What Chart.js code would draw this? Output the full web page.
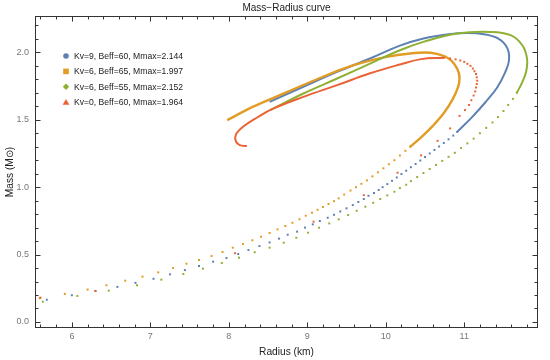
<!DOCTYPE html>
<html>
<head>
<meta charset="utf-8">
<script src="https://cdn.jsdelivr.net/npm/chart.js@4.4.0/dist/chart.umd.min.js"></script>
<style>
  html, body { margin: 0; padding: 0; background: #fff; }
</style>
</head>
<body>
<canvas id="mrChart" width="550" height="360"></canvas>
<script>
// ---- data (radius in km, mass in solar masses) ----
const seriesLabels = [
  'Kv=9, Beff=60, Mmax=2.144',
  'Kv=6, Beff=65, Mmax=1.997',
  'Kv=6, Beff=55, Mmax=2.152',
  'Kv=0, Beff=60, Mmax=1.964'
];
const seriesColors = ['#5E81B5', '#E19C24', '#8FB032', '#EB6235'];
const legendMarkers = ['circle', 'rect', 'rectRot', 'triangle'];

// Kv=9, Beff=60 : sparse points (low branch) + dense part drawn as a line
const kv9DotR = [5.68, 6.00, 6.30, 6.58, 6.81, 7.04, 7.25, 7.44, 7.62, 7.80, 7.97, 8.12, 8.25, 8.39, 8.52, 8.64, 8.75, 8.87, 8.97, 9.07, 9.16, 9.26, 9.34, 9.42, 9.50, 9.58, 9.65, 9.72, 9.78, 9.85, 9.91, 9.96, 10.02, 10.08, 10.14, 10.20, 10.26, 10.32, 10.38, 10.44, 10.50, 10.56, 10.62, 10.68, 10.74, 10.80, 10.86, 10.91];
const kv9DotM = [0.165, 0.198, 0.230, 0.260, 0.290, 0.320, 0.353, 0.385, 0.415, 0.447, 0.474, 0.504, 0.534, 0.563, 0.590, 0.618, 0.647, 0.670, 0.700, 0.724, 0.749, 0.773, 0.795, 0.820, 0.843, 0.867, 0.890, 0.912, 0.936, 0.956, 0.979, 1.000, 1.023, 1.047, 1.072, 1.098, 1.122, 1.148, 1.172, 1.198, 1.223, 1.250, 1.276, 1.302, 1.328, 1.355, 1.383, 1.410];
const kv9LineR = [10.91, 11.10, 11.27, 11.42, 11.52, 11.57, 11.55, 11.44, 11.25, 11.05, 10.80, 10.48, 10.18, 9.80, 9.38, 8.95, 8.52];
const kv9LineM = [1.410, 1.520, 1.630, 1.740, 1.850, 1.940, 2.030, 2.100, 2.135, 2.144, 2.135, 2.103, 2.050, 1.955, 1.855, 1.745, 1.633];

// Kv=6, Beff=65
const kv6aDotR = [5.59, 5.91, 6.20, 6.44, 6.68, 6.90, 7.10, 7.29, 7.46, 7.62, 7.78, 7.92, 8.05, 8.18, 8.30, 8.41, 8.52, 8.62, 8.72, 8.81, 8.90, 8.98, 9.06, 9.13, 9.20, 9.27, 9.34, 9.40, 9.47, 9.55, 9.62, 9.69, 9.76, 9.83, 9.90, 9.97, 10.04, 10.11, 10.18, 10.25, 10.31];
const kv6aDotM = [0.176, 0.208, 0.240, 0.272, 0.306, 0.336, 0.368, 0.400, 0.432, 0.460, 0.489, 0.519, 0.551, 0.578, 0.606, 0.632, 0.660, 0.687, 0.712, 0.736, 0.762, 0.788, 0.810, 0.832, 0.853, 0.875, 0.896, 0.917, 0.945, 0.975, 1.000, 1.025, 1.050, 1.080, 1.110, 1.140, 1.170, 1.200, 1.235, 1.270, 1.300];
const kv6aLineR = [10.31, 10.45, 10.60, 10.74, 10.85, 10.92, 10.94, 10.91, 10.80, 10.57, 10.31, 10.01, 9.59, 9.16, 8.74, 8.31, 7.98];
const kv6aLineM = [1.300, 1.370, 1.455, 1.550, 1.650, 1.740, 1.810, 1.880, 1.955, 1.997, 1.992, 1.967, 1.905, 1.810, 1.705, 1.597, 1.497];

// Kv=6, Beff=55
const kv6bDotR = [5.63, 6.07, 6.47, 6.83, 7.14, 7.42, 7.67, 7.91, 8.13, 8.33, 8.52, 8.70, 8.86, 9.01, 9.15, 9.28, 9.40, 9.52, 9.63, 9.74, 9.84, 9.93, 10.02, 10.11, 10.18, 10.26, 10.32, 10.40, 10.48, 10.56, 10.64, 10.72, 10.80, 10.88, 10.96, 11.04, 11.12, 11.20, 11.28, 11.36, 11.43, 11.50, 11.56, 11.62, 11.67];
const kv6bDotM = [0.150, 0.193, 0.232, 0.272, 0.314, 0.356, 0.395, 0.437, 0.477, 0.517, 0.551, 0.588, 0.625, 0.662, 0.699, 0.731, 0.761, 0.793, 0.825, 0.855, 0.884, 0.912, 0.939, 0.966, 0.993, 1.018, 1.045, 1.075, 1.105, 1.135, 1.165, 1.195, 1.225, 1.255, 1.290, 1.325, 1.360, 1.400, 1.440, 1.480, 1.520, 1.565, 1.610, 1.655, 1.700];
const kv6bLineR = [11.67, 11.74, 11.79, 11.80, 11.74, 11.59, 11.33, 10.91, 10.48, 10.18, 9.80, 9.38, 8.95, 8.53];
const kv6bLineM = [1.700, 1.780, 1.860, 1.955, 2.053, 2.128, 2.152, 2.140, 2.078, 2.016, 1.917, 1.806, 1.695, 1.572];

// Kv=0, Beff=60
const kv0DotR = [5.60, 6.30, 8.08, 9.08, 9.72, 10.15, 10.45, 10.66, 10.82, 10.94, 11.01, 11.06, 11.09, 11.12, 11.14, 11.15, 11.16, 11.165, 11.16, 11.15, 11.13, 11.11, 11.08, 11.04, 11.00, 10.95, 10.89, 10.82, 10.74];
const kv0DotM = [0.180, 0.230, 0.510, 0.744, 0.941, 1.107, 1.236, 1.344, 1.436, 1.529, 1.572, 1.610, 1.645, 1.680, 1.710, 1.740, 1.765, 1.790, 1.815, 1.840, 1.860, 1.880, 1.900, 1.915, 1.930, 1.940, 1.948, 1.955, 1.960];
const kv0LineR = [10.74, 10.45, 10.18, 9.80, 9.38, 8.95, 8.57, 8.36, 8.18, 8.09, 8.09, 8.14, 8.23];
const kv0LineM = [1.960, 1.950, 1.910, 1.845, 1.757, 1.670, 1.584, 1.517, 1.448, 1.390, 1.340, 1.312, 1.305];

// axes
const xTickValues = [6, 7, 8, 9, 10, 11];
const xTickLabels = ['6', '7', '8', '9', '10', '11'];
const yTickValues = [0, 0.5, 1, 1.5, 2];
const yTickLabels = ['0.0', '0.5', '1.0', '1.5', '2.0'];

const pts = (rs, ms) => rs.map((r, i) => ({ x: r, y: ms[i] }));

const dotSets = [[kv9DotR, kv9DotM], [kv6aDotR, kv6aDotM], [kv6bDotR, kv6bDotM], [kv0DotR, kv0DotM]];
const lineSets = [[kv9LineR, kv9LineM], [kv6aLineR, kv6aLineM], [kv6bLineR, kv6bLineM], [kv0LineR, kv0LineM]];

const datasets = [];
// red drawn last in the original -> give it the lowest order so it ends on top
for (let i = 0; i < 4; i++) {
  datasets.push({
    label: seriesLabels[i] + ' line',
    data: pts(lineSets[i][0], lineSets[i][1]),
    showLine: true,
    borderColor: seriesColors[i],
    borderWidth: i === 1 ? 2.4 : 2,
    pointRadius: 0,
    tension: 0.4,
    fill: false,
    order: 4 - i
  });
  datasets.push({
    label: seriesLabels[i],
    data: pts(dotSets[i][0], dotSets[i][1]),
    showLine: false,
    pointStyle: 'rect',
    pointRadius: 1.4,
    pointBorderWidth: 0,
    backgroundColor: seriesColors[i],
    order: 4 - i
  });
}

const FONT = "'Liberation Sans', Arial, sans-serif";

// Mathematica-style frame: box with inward ticks on all sides, plus the legend
const framePlugin = {
  id: 'frame',
  afterDraw(chart) {
    const { ctx, chartArea: a, scales: { x, y } } = chart;
    ctx.save();
    ctx.strokeStyle = '#333';
    ctx.lineWidth = 1;
    const L = Math.round(a.left) + 0.5, R = Math.round(a.right) - 0.5;
    const T = Math.round(a.top) + 0.5, B = Math.round(a.bottom) - 0.5;
    ctx.strokeRect(L, T, R - L, B - T);

    ctx.beginPath();
    for (let k = 28; k <= 59; k++) {          // every 0.2 km
      const v = k / 5;
      const px = Math.round(x.getPixelForValue(v)) + 0.5;
      const len = k % 5 === 0 ? 5 : 3;
      ctx.moveTo(px, B); ctx.lineTo(px, B - len);
      ctx.moveTo(px, T); ctx.lineTo(px, T + len);
    }
    for (let k = 0; k <= 22; k++) {           // every 0.1 Msun
      const v = k / 10;
      const py = Math.round(y.getPixelForValue(v)) + 0.5;
      const len = k % 5 === 0 ? 5 : 3;
      ctx.moveTo(L, py); ctx.lineTo(L + len, py);
      ctx.moveTo(R, py); ctx.lineTo(R - len, py);
    }
    ctx.stroke();

    // legend inside the plot
    const lx = 66, ly = 56, step = 15.4;
    ctx.font = '8.6px ' + FONT;
    ctx.textBaseline = 'middle';
    ctx.textAlign = 'left';
    for (let i = 0; i < seriesLabels.length; i++) {
      const cy = ly + i * step;
      ctx.fillStyle = seriesColors[i];
      ctx.beginPath();
      if (legendMarkers[i] === 'circle') {
        ctx.arc(lx, cy, 2.8, 0, Math.PI * 2);
      } else if (legendMarkers[i] === 'rect') {
        ctx.rect(lx - 2.8, cy - 2.8, 5.6, 5.6);
      } else if (legendMarkers[i] === 'rectRot') {
        ctx.moveTo(lx, cy - 3.2); ctx.lineTo(lx + 3.2, cy);
        ctx.lineTo(lx, cy + 3.2); ctx.lineTo(lx - 3.2, cy);
        ctx.closePath();
      } else {
        ctx.moveTo(lx, cy - 3.2); ctx.lineTo(lx + 3.4, cy + 2.5);
        ctx.lineTo(lx - 3.4, cy + 2.5); ctx.closePath();
      }
      ctx.fill();
      ctx.fillStyle = '#222';
      ctx.fillText(seriesLabels[i], lx + 8, cy + 0.5);
    }
    ctx.restore();
  }
};

new Chart(document.getElementById('mrChart'), {
  type: 'scatter',
  data: { datasets },
  options: {
    responsive: false,
    animation: false,
    layout: { padding: { left: 0, right: 12, top: 0, bottom: 0 } },
    plugins: {
      legend: { display: false },
      tooltip: { enabled: false },
      title: {
        display: true,
        text: 'Mass\u2212Radius curve',
        fullSize: false,
        color: '#222',
        font: { family: FONT, size: 10, weight: 'normal' },
        padding: { top: 2, bottom: 2 }
      }
    },
    scales: {
      x: {
        type: 'linear',
        min: 5.53,
        max: 11.94,
        grid: { display: false, drawTicks: false },
        border: { display: false },
        afterBuildTicks: s => { s.ticks = xTickValues.map(v => ({ value: v })); },
        afterFit: s => { s.height = 32; },
        ticks: {
          padding: 3,
          color: '#777',
          font: { family: FONT, size: 9 },
          callback: (v) => xTickLabels[xTickValues.indexOf(v)]
        },
        title: {
          display: true,
          text: 'Radius (km)',
          color: '#222',
          font: { family: FONT, size: 10.2 },
          padding: { top: 0, bottom: 2 }
        }
      },
      y: {
        type: 'linear',
        min: -0.045,
        max: 2.27,
        grid: { display: false, drawTicks: false },
        border: { display: false },
        afterBuildTicks: s => { s.ticks = yTickValues.map(v => ({ value: v })); },
        afterFit: s => { s.width = 35; },
        ticks: {
          padding: 6,
          color: '#777',
          font: { family: FONT, size: 9 },
          callback: (v) => yTickLabels[yTickValues.indexOf(v)]
        },
        title: {
          display: true,
          text: 'Mass (M\u2299)',
          color: '#222',
          font: { family: FONT, size: 10.2 },
          padding: { top: 4, bottom: 0 }
        }
      }
    }
  },
  plugins: [framePlugin]
});
</script>
</body>
</html>
